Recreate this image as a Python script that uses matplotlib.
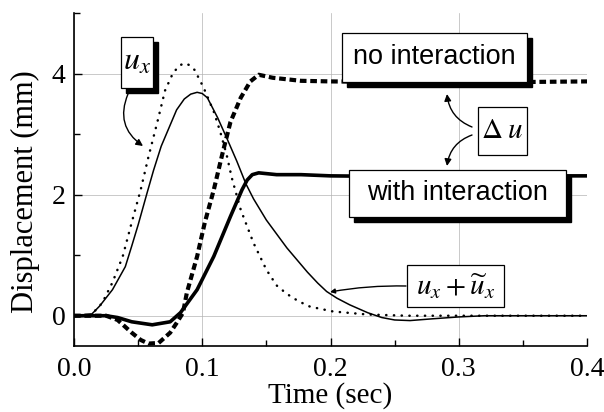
import numpy as np
import matplotlib
matplotlib.use("Agg")
import matplotlib.pyplot as plt
from matplotlib.patches import Rectangle
from matplotlib.ticker import MultipleLocator

plt.rcParams['font.family'] = 'serif'
plt.rcParams['font.serif'] = ['Liberation Serif', 'DejaVu Serif']
plt.rcParams['mathtext.fontset'] = 'stix'

# u_x (thin dotted)
t_ux = [0, 0.012, 0.015, 0.022, 0.030, 0.038, 0.045, 0.052, 0.058, 0.065, 0.071,
        0.077, 0.082, 0.086, 0.090, 0.094, 0.101, 0.109, 0.114, 0.119, 0.123, 0.130, 0.140,
        0.150, 0.158, 0.166, 0.175, 0.184, 0.202, 0.229, 0.26, 0.30, 0.40]
v_ux = [0, 0, 0.05, 0.21, 0.55, 0.98, 1.54, 2.08, 2.62, 3.2, 3.72,
        4.0, 4.13, 4.17, 4.14, 4.06, 3.77, 3.37, 3.04, 2.66, 2.28, 1.75, 1.2,
        0.76, 0.5, 0.36, 0.24, 0.15, 0.07, 0.02, 0, 0, 0]

# u_x + u~_x (thin solid)
t_sum = [0, 0.014, 0.020, 0.030, 0.040, 0.045, 0.050, 0.057, 0.062, 0.068, 0.074, 0.080,
         0.086, 0.091, 0.096, 0.100, 0.104, 0.112, 0.119, 0.127, 0.134, 0.140, 0.150,
         0.158, 0.166, 0.174, 0.182, 0.190, 0.197, 0.205, 0.215, 0.229, 0.240, 0.250,
         0.262, 0.280, 0.300, 0.320, 0.40]
v_sum = [0, 0.03, 0.16, 0.43, 0.81, 1.15, 1.5, 2.03, 2.4, 2.8, 3.1, 3.4,
         3.58, 3.66, 3.69, 3.67, 3.6, 3.27, 2.94, 2.55, 2.18, 1.93, 1.58,
         1.35, 1.12, 0.92, 0.72, 0.54, 0.40, 0.29, 0.18, 0.05, -0.03, -0.07,
         -0.08, -0.05, -0.02, 0.0, 0.0]

# delta u, no interaction (thick dashed)
t_noint = [0, 0.025, 0.034, 0.045, 0.052, 0.058, 0.066, 0.075, 0.080, 0.085, 0.088, 0.096,
           0.102, 0.109, 0.116, 0.122, 0.130, 0.1375, 0.144, 0.155, 0.177, 0.2, 0.25,
           0.3, 0.35, 0.4]
v_noint = [0, 0, -0.07, -0.28, -0.40, -0.46, -0.45, -0.28, -0.12, 0.05, 0.38, 0.98,
           1.54, 2.08, 2.7, 3.2, 3.6, 3.87, 3.98, 3.93, 3.88, 3.87, 3.86,
           3.87, 3.86, 3.87]

# delta u, with interaction (thick solid)
t_int = [0, 0.025, 0.034, 0.045, 0.061, 0.075, 0.083, 0.096, 0.109, 0.122, 0.131, 0.135,
         0.139, 0.144, 0.158, 0.177, 0.2, 0.25, 0.3, 0.35, 0.4]
v_int = [0, 0, -0.03, -0.1, -0.15, -0.1, 0.05, 0.43, 0.98, 1.64, 2.08, 2.24,
         2.33, 2.36, 2.33, 2.33, 2.31, 2.3, 2.3, 2.31, 2.31]

W, H = 604, 412
fig = plt.figure(figsize=(W / 100, H / 100), dpi=100)
ax = fig.add_axes([74 / W, 1 - 346 / H, (587 - 74) / W, (346 - 13) / H])


def px(x, y):
    # pixel (top-left origin) -> figure fraction
    return x / W, 1 - y / H


ax.plot(t_ux, v_ux, color='k', lw=1.8, linestyle=(0, (0.1, 3.0)), dash_capstyle='round')
ax.plot(t_sum, v_sum, color='k', lw=1.1)
ax.plot(t_noint, v_noint, color='k', lw=3.0, linestyle=(0, (1.6, 0.9)))
ax.plot(t_int, v_int, color='k', lw=2.6, solid_joinstyle='round')

ax.set_xlim(0, 0.4)
ax.set_ylim(-0.5, 5)
ax.set_xticks([0, 0.1, 0.2, 0.3, 0.4])
ax.set_xticklabels(['0.0', '0.1', '0.2', '0.3', '0.4'])
ax.set_yticks([0, 2, 4])
ax.xaxis.set_minor_locator(MultipleLocator(0.05))
ax.yaxis.set_minor_locator(MultipleLocator(1))
ax.tick_params(which='both', direction='in', labelsize=20, width=1)
ax.tick_params(which='major', length=6)
ax.tick_params(which='minor', length=4)
ax.tick_params(axis='x', pad=8)
ax.tick_params(axis='y', pad=6)
for s in ['top', 'right']:
    ax.spines[s].set_visible(False)
for s in ['left', 'bottom']:
    ax.spines[s].set_linewidth(1.2)
ax.grid(True, which='major', color='0.7', lw=0.5)
ax.set_axisbelow(True)

fig.text(*px(25, 192), 'Displacement (mm)', rotation=90, ha='center', va='center', fontsize=22)
fig.text(*px(330, 396), 'Time (sec)', ha='center', va='center', fontsize=21)


def box(x0, y0, x1, y1, text, shadow=True, **kw):
    fx0, fy1 = px(x0, y1)
    w, h = (x1 - x0) / W, (y1 - y0) / H
    if shadow:
        fig.add_artist(Rectangle((fx0 + 5 / W, fy1 - 5 / H), w, h, transform=fig.transFigure,
                                 facecolor='k', edgecolor='k', zorder=5))
    fig.add_artist(Rectangle((fx0, fy1), w, h, transform=fig.transFigure,
                             facecolor='white', edgecolor='k', lw=0.9, zorder=6))
    fig.text(fx0 + w / 2, fy1 + h / 2, text, ha='center', va='center', zorder=7, **kw)


box(121, 37, 153, 88, r'$u_x$', fontsize=23)
box(342, 33, 527, 82, 'no interaction', family='Liberation Sans', fontsize=19.5)
box(478, 107, 527, 155, r'$\mathit{\Delta}\;u$', shadow=False, fontsize=21)
box(349, 170, 566, 217, 'with interaction', family='Liberation Sans', fontsize=19.5)
box(407, 265, 504, 307, r'$u_x+\widetilde{u}_x$', shadow=False, fontsize=21)


def arrow(x0, y0, x1, y1, rad, head='-|>', ms=10):
    ax.annotate('', xy=(x1, H - y1), xycoords='figure pixels',
                xytext=(x0, H - y0), textcoords='figure pixels',
                arrowprops=dict(arrowstyle=head, color='k', lw=1.0, mutation_scale=ms,
                                shrinkA=0, shrinkB=0, connectionstyle=f'arc3,rad={rad}'),
                zorder=8)


arrow(128, 94, 143, 146, 0.4)
arrow(472, 127, 447, 94, -0.3)
arrow(472, 135, 447, 166, 0.3)
arrow(406, 286, 330, 292, 0.05, ms=7)

fig.savefig('out.png', dpi=100)
